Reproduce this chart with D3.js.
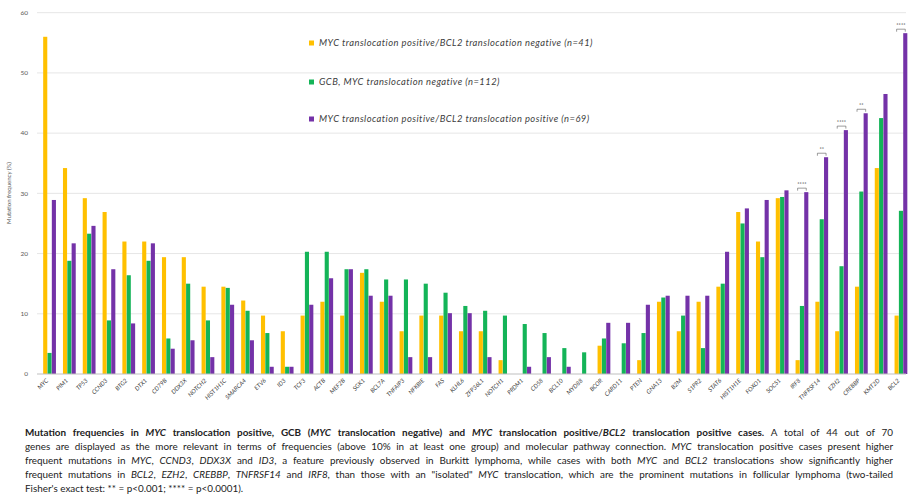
<!DOCTYPE html>
<html>
<head>
<script src="https://d3js.org/d3.v7.min.js"></script>
<style>
  body { margin: 0; background: white; font-family: Lato, "Open Sans", sans-serif; }
  #chart { position: absolute; left: 0; top: 0; }
  #caption { position: absolute; left: 25px; top: 426px; width: 868px; font-size: 9.9px; line-height: 13.9px; color: #222; }
  #caption div { white-space: nowrap; text-align: justify; text-align-last: justify; }
  #caption div.last { text-align-last: left; }
</style>
</head>
<body>
<div id="chart"></div>
<div id="caption">
  <div><b>Mutation frequencies in <i>MYC</i> translocation positive, GCB (<i>MYC</i> translocation negative) and <i>MYC</i> translocation positive/<i>BCL2</i> translocation positive cases.</b> A total of 44 out of 70</div>
  <div>genes are displayed as the more relevant in terms of frequencies (above 10% in at least one group) and molecular pathway connection. <i>MYC</i> translocation positive cases present higher</div>
  <div>frequent mutations in <i>MYC</i>, <i>CCND3</i>, <i>DDX3X</i> and <i>ID3</i>, a feature previously observed in Burkitt lymphoma, while cases with both <i>MYC</i> and <i>BCL2</i> translocations show significantly higher</div>
  <div>frequent mutations in <i>BCL2</i>, <i>EZH2</i>, <i>CREBBP</i>, <i>TNFRSF14</i> and <i>IRF8</i>, than those with an "isolated" <i>MYC</i> translocation, which are the prominent mutations in follicular lymphoma (two-tailed</div>
  <div class="last">Fisher's exact test: ** = p&lt;0.001; **** = p&lt;0.0001).</div>
</div>
<script>
// genes on the x axis
var genes = ["MYC","PIM1","TP53","CCND3","BTG2","DTX1","CD79B","DDX3X","NOTCH2","HIST1H1C",
  "SMARCA4","ETV6","ID3","TCF3","ACTB","MEF2B","SGK1","BCL7A","TNFAIP3","NFKBIE",
  "FAS","KLHL6","ZFP36L1","NOTCH1","PRDM1","CD58","BCL10","MYD88","BCOR","CARD11",
  "PTEN","GNA13","B2M","S1PR2","STAT6","HIST1H1E","FOXO1","SOCS1","IRF8","TNFRSF14",
  "EZH2","CREBBP","KMT2D","BCL2"];

// mutation frequency (%) per group
var mycPosBcl2Neg = [56.0,34.2,29.2,26.9,22.0,22.0,19.4,19.4,14.5,14.5,
  12.2,9.7,7.1,9.7,12.0,9.7,16.8,12.0,7.1,9.7,
  9.7,7.1,7.1,2.3,0,0,0,0,4.7,0,
  2.3,12.0,7.1,12.0,14.5,26.9,22.0,29.2,2.3,12.0,
  7.1,14.5,34.2,9.7];
var gcbMycNeg = [3.5,18.8,23.3,8.9,16.4,18.8,5.9,15.0,8.9,14.3,
  10.5,6.8,1.2,20.3,20.3,17.4,17.4,15.7,15.7,15.0,
  13.5,11.3,10.5,9.7,8.3,6.8,4.3,3.6,5.9,5.1,
  6.8,12.7,9.7,4.3,15.0,25.0,19.4,29.4,11.3,25.7,
  17.9,30.3,42.5,27.1];
var mycPosBcl2Pos = [28.9,21.7,24.6,17.4,8.4,21.7,4.2,5.6,2.8,11.5,
  5.6,1.2,1.2,11.5,15.9,17.4,13.0,13.0,2.8,2.8,
  10.1,10.1,2.8,0,1.2,2.8,1.2,0,8.5,8.5,
  11.5,13.0,13.0,13.0,20.3,27.5,28.9,30.5,30.2,36.0,
  40.5,43.3,46.5,56.6];

var seriesNames = [
  "MYC translocation positive/BCL2 translocation negative (n=41)",
  "GCB, MYC translocation negative (n=112)",
  "MYC translocation positive/BCL2 translocation positive (n=69)"
];
var yTicks = [0,10,20,30,40,50,60];

// significance marks (MYC+/BCL2- vs MYC+/BCL2+)
var sigGenes = ["IRF8","TNFRSF14","EZH2","CREBBP","BCL2"];
var sigStars = ["****","**","****","**","****"];

var W = 910, H = 425;
var colors = ["#FFC000","#14B458","#7432A8"];

var svg = d3.select("#chart").append("svg")
  .attr("width", W).attr("height", H);

var x = d3.scaleBand().domain(genes).range([38, 912.5])
  .paddingInner(0.333).paddingOuter(0.25);
var xSub = d3.scaleBand().domain([0,1,2]).range([0, x.bandwidth()]).padding(0.05);
var y = d3.scaleLinear().domain([0, 60]).range([374, 12.7]);

// gridlines + y labels
svg.append("g").selectAll("line").data(yTicks.slice(1)).enter().append("line")
  .attr("x1", 37).attr("x2", 906)
  .attr("y1", function(d){ return y(d); }).attr("y2", function(d){ return y(d); })
  .attr("stroke", "#e6e6e6").attr("stroke-width", 1);

svg.append("g").selectAll("text").data(yTicks).enter().append("text")
  .attr("x", 28).attr("y", function(d){ return y(d) + 2.3; })
  .attr("text-anchor", "end")
  .style("font-size", "6.5px").style("fill", "#595959")
  .text(function(d){ return d; });

svg.append("text")
  .attr("transform", "translate(11," + 193 + ") rotate(-90)")
  .attr("text-anchor", "middle")
  .style("font-size", "6px").style("fill", "#595959")
  .text("Mutation frequency (%)");

// bars
var table = genes.map(function(g, i){
  return { gene: g, vals: [mycPosBcl2Neg[i], gcbMycNeg[i], mycPosBcl2Pos[i]] };
});

svg.append("g").selectAll("g").data(table).enter().append("g")
    .attr("transform", function(d){ return "translate(" + x(d.gene) + ",0)"; })
  .selectAll("rect")
  .data(function(d){ return d.vals.map(function(v, k){ return {k: k, v: v}; }); })
  .enter().append("rect")
    .attr("x", function(d){ return xSub(d.k); })
    .attr("y", function(d){ return y(d.v); })
    .attr("width", xSub.bandwidth())
    .attr("height", function(d){ return y(0) - y(d.v); })
    .attr("fill", function(d){ return colors[d.k]; });

// baseline
svg.append("line").attr("x1", 37).attr("x2", 906)
  .attr("y1", y(0)).attr("y2", y(0))
  .attr("stroke", "#bfbfbf").attr("stroke-width", 1);

// x labels
svg.append("g").selectAll("text").data(genes).enter().append("text")
  .attr("transform", function(d){
    return "translate(" + (x(d) + x.bandwidth()/2 - 1) + ",381) rotate(-45)";
  })
  .attr("text-anchor", "end")
  .style("font-size", "6px").style("fill", "#404040").style("font-style", "italic")
  .text(function(d){ return d; });

// significance brackets
sigGenes.forEach(function(g, i){
  var idx = genes.indexOf(g);
  var top = Math.max(mycPosBcl2Neg[idx], gcbMycNeg[idx], mycPosBcl2Pos[idx]);
  var x1 = x(g) + xSub(0) + xSub.bandwidth()/2;
  var x2 = x(g) + xSub(2) + xSub.bandwidth()/2;
  var yb = y(top) - 4;
  svg.append("path")
    .attr("d", "M" + x1 + "," + (yb + 2.5) + "V" + yb + "H" + x2 + "V" + (yb + 2.5))
    .attr("fill", "none").attr("stroke", "#595959").attr("stroke-width", 0.6);
  svg.append("text")
    .attr("x", (x1 + x2)/2).attr("y", yb - 2)
    .attr("text-anchor", "middle")
    .style("font-size", "5.5px").style("fill", "#404040")
    .text(sigStars[i]);
});

// legend
var legendY = [43, 82, 119];
seriesNames.forEach(function(name, i){
  svg.append("rect").attr("x", 309).attr("y", legendY[i] - 2.5)
    .attr("width", 5).attr("height", 5).attr("fill", colors[i]);
  svg.append("text").attr("x", 319).attr("y", legendY[i] + 3)
    .style("font-size", "9.4px").style("font-style", "italic").style("fill", "#404040")
    .style("letter-spacing", "0.45px")
    .text(name);
});
</script>
</body>
</html>
